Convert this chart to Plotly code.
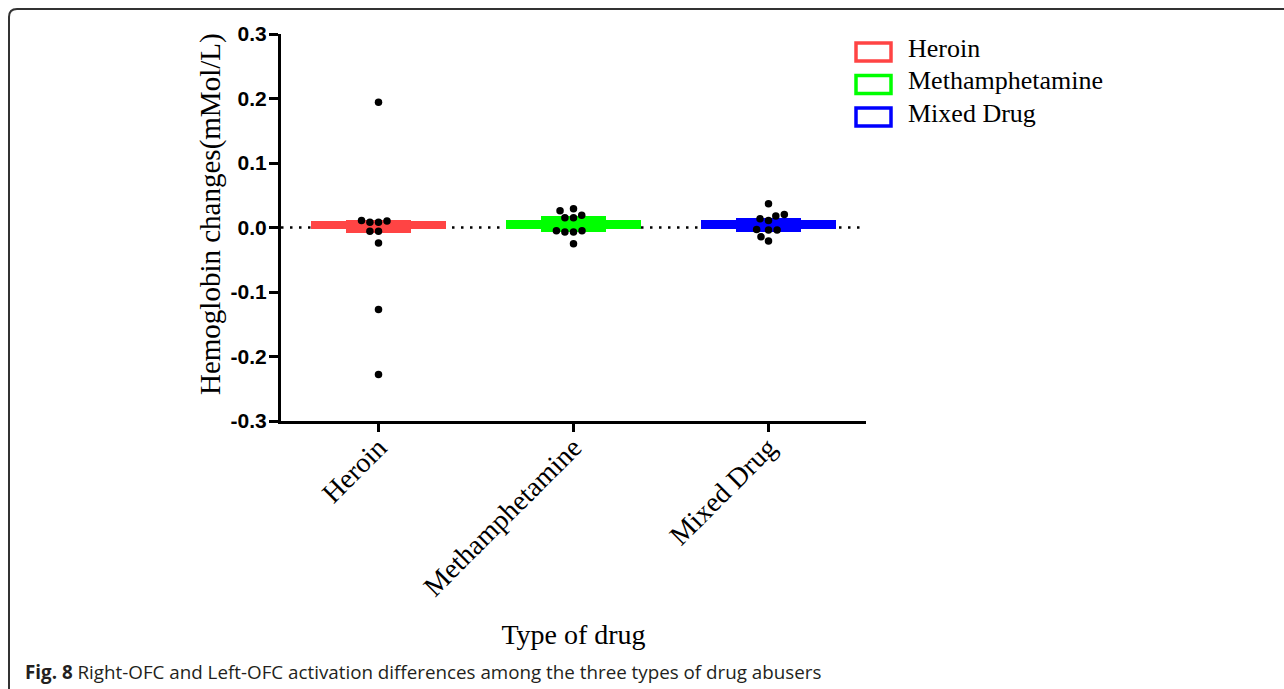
import math
import plotly.graph_objects as go

# ---------------- data ----------------
categories = ["Heroin", "Methamphetamine", "Mixed Drug"]
heroin_vals = [0.194, 0.008, 0.010, 0.011, 0.008, -0.006, -0.006, -0.024, -0.127, -0.228]
meth_vals = [0.029, 0.026, 0.019, 0.015, 0.015, -0.005, -0.007, -0.007, -0.005, -0.025]
mixed_vals = [0.037, 0.018, 0.020, 0.011, 0.0135, -0.004, -0.004, -0.003, -0.021, -0.0145]
band_low = [-0.0030, -0.0016, -0.0020]
band_high = [0.0098, 0.0124, 0.0109]
box_low = [-0.0082, -0.0073, -0.0073]
box_high = [0.0113, 0.0186, 0.0150]
y_tick_vals = [-0.3, -0.2, -0.1, 0.0, 0.1, 0.2, 0.3]
y_tick_labels = ["-0.3", "-0.2", "-0.1", "0.0", "0.1", "0.2", "0.3"]
x_title = "Type of drug"
y_title = "Hemoglobin changes(mMol/L)"
caption_bold = "Fig. 8"
caption_text = "Right-OFC and Left-OFC activation differences among the three types of drug abusers"

# ---------------- style / layout ----------------
colors = ["#FF4444", "#00FF00", "#0000FF"]
W, H = 1284, 689
PL, PR, PT, PB = 281, 866, 34, 421          # plot area in pixels
Y_RANGE = [-0.3, 0.3]
X_RANGE = [-0.5, 2.5]
px_per_x = (PR - PL) / (X_RANGE[1] - X_RANGE[0])
px_per_y = (PB - PT) / (Y_RANGE[1] - Y_RANGE[0])
DOT_D = 8.6          # swarm spacing (px)
BAND_W = 0.69
BOX_W = 0.33
serif = "Liberation Serif, Times New Roman, serif"
sans = "Liberation Sans, Arial, sans-serif"


def px2x(px):
    return (px - PL) / (PR - PL)


def py2y(py):
    return (PB - py) / (PB - PT)


def swarm_offsets(vals):
    """Compact beeswarm: x offsets (in axis units) so dots do not overlap."""
    order = sorted(range(len(vals)), key=lambda i: vals[i])
    placed = []
    offs = [0.0] * len(vals)
    for i in order:
        y = vals[i] * px_per_y
        cands = [0.0]
        for (px, py) in placed:
            dy = y - py
            if abs(dy) < DOT_D:
                dx = math.sqrt(DOT_D ** 2 - dy ** 2)
                cands += [px + dx, px - dx]
        ok = [c for c in cands
              if all((c - px) ** 2 + (y - py) ** 2 >= DOT_D ** 2 - 1e-6 for (px, py) in placed)]
        best = min(ok, key=lambda c: (round(abs(c), 6), c))
        placed.append((best, y))
        offs[i] = best / px_per_x
    return offs


fig = go.Figure()

# wide thin band
fig.add_trace(go.Bar(
    x=list(range(len(categories))),
    y=[h - l for h, l in zip(band_high, band_low)],
    base=band_low, width=BAND_W,
    marker=dict(color=colors, line=dict(width=0)),
    showlegend=False, hoverinfo="skip"))
# narrower taller box
fig.add_trace(go.Bar(
    x=list(range(len(categories))),
    y=[h - l for h, l in zip(box_high, box_low)],
    base=box_low, width=BOX_W,
    marker=dict(color=colors, line=dict(width=0)),
    showlegend=False, hoverinfo="skip"))

# individual points
for ci, vals in enumerate([heroin_vals, meth_vals, mixed_vals]):
    offs = swarm_offsets(vals)
    fig.add_trace(go.Scatter(
        x=[ci + o for o in offs], y=vals, mode="markers",
        marker=dict(color="black", size=7.5, line=dict(width=0)),
        showlegend=False, cliponaxis=False))

shapes = []
# dotted zero line
shapes.append(dict(type="line", xref="paper", yref="y", x0=0, x1=1, y0=0, y1=0,
                   line=dict(color="black", width=2.5, dash="2.5px,6.5px"), layer="below"))
# outer rounded frame (left + top only visible)
fx0, fy0 = px2x(9), py2y(9)
rx, ry = 8 / (PR - PL), 8 / (PB - PT)
shapes.append(dict(type="path", xref="paper", yref="paper",
                   path=f"M {fx0},{py2y(700)} L {fx0},{fy0 - ry} Q {fx0},{fy0} {fx0 + rx},{fy0} L {px2x(1300)},{fy0}",
                   line=dict(color="#333333", width=2)))

annotations = []
# manual legend (hollow rectangles)
LEG_X0, LEG_X1, LEG_Y0, LEG_DY, LEG_H = 856, 891, 52, 32.5, 18
for i, name in enumerate(categories):
    cy = LEG_Y0 + i * LEG_DY
    shapes.append(dict(type="rect", xref="paper", yref="paper",
                       x0=px2x(LEG_X0), x1=px2x(LEG_X1),
                       y0=py2y(cy + LEG_H / 2), y1=py2y(cy - LEG_H / 2),
                       line=dict(color=colors[i], width=3.5), fillcolor="white"))
    annotations.append(dict(xref="paper", yref="paper", x=px2x(906), y=py2y(cy - 4),
                            xanchor="left", yanchor="middle", showarrow=False,
                            text=name, font=dict(family=serif, size=26, color="black")))

# y-axis title (placed like the original, slightly above the plot centre)
annotations.append(dict(xref="paper", yref="paper", x=px2x(210), y=py2y(214),
                        xanchor="center", yanchor="middle", showarrow=False, textangle=-90,
                        text=y_title, font=dict(family=serif, size=29, color="black")))

# caption
annotations.append(dict(xref="paper", yref="paper", x=px2x(23), y=py2y(672),
                        xanchor="left", yanchor="middle", showarrow=False,
                        text=f"<b>{caption_bold}</b> {caption_text}",
                        font=dict(family="Open Sans, Lato, sans-serif", size=18.8, color="#231f20")))

fig.update_layout(
    width=W, height=H,
    margin=dict(l=PL, r=W - PR, t=PT, b=H - PB, pad=0),
    paper_bgcolor="white", plot_bgcolor="white",
    barmode="overlay", bargap=0,
    showlegend=False,
    shapes=shapes, annotations=annotations,
    xaxis=dict(range=X_RANGE, tickvals=list(range(len(categories))), ticktext=categories,
               tickangle=-45, ticks="outside", ticklen=8, tickwidth=2.5, tickcolor="black",
               showline=True, linecolor="black", linewidth=3, showgrid=False, zeroline=False,
               tickfont=dict(family=serif, size=28, color="black"),
               ticklabelstandoff=-12,
               title=dict(text=x_title, font=dict(family=serif, size=28, color="black"), standoff=24),
               automargin=False, fixedrange=True),
    yaxis=dict(range=Y_RANGE, tickvals=y_tick_vals, ticktext=y_tick_labels,
               ticks="outside", ticklen=9, tickwidth=2.5, tickcolor="black",
               showline=True, linecolor="black", linewidth=3, showgrid=False, zeroline=False,
               tickfont=dict(family=sans, size=21, color="black", weight="bold"),
               ticklabelstandoff=-2,
               automargin=False, fixedrange=True),
)

fig.write_html("out.html", config={"displayModeBar": False},
               post_script="document.body.style.margin='0';")
